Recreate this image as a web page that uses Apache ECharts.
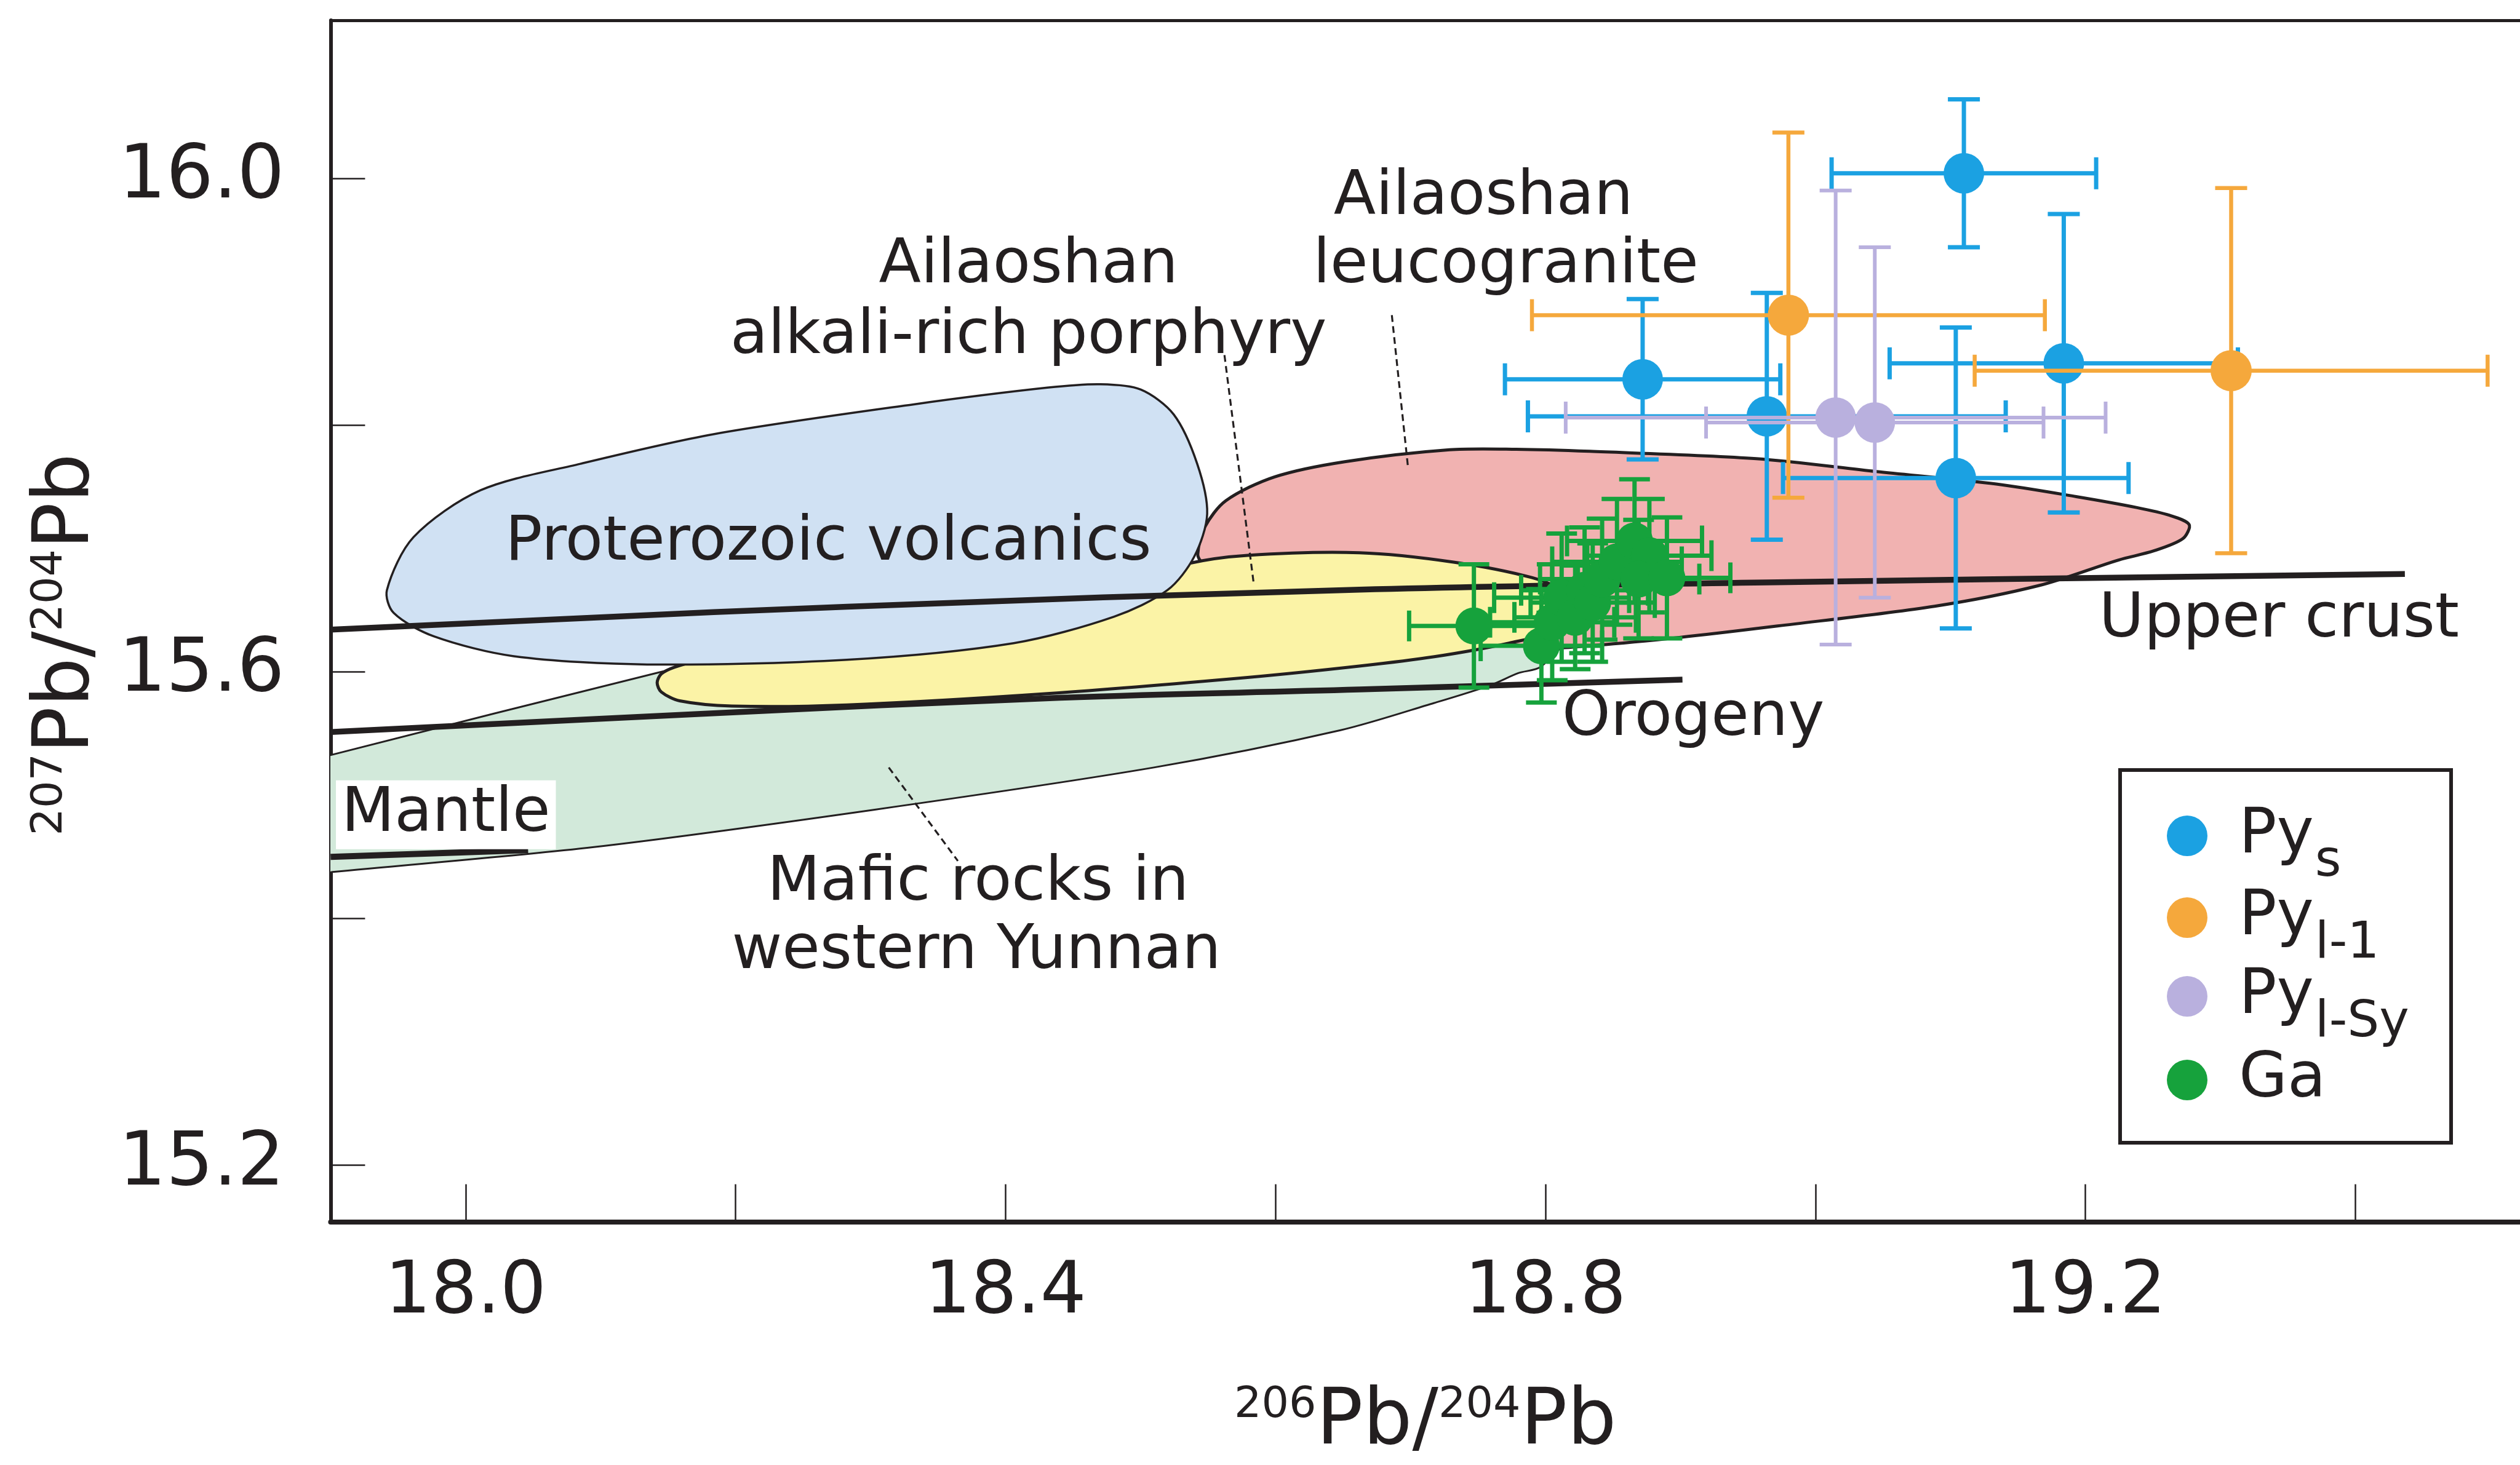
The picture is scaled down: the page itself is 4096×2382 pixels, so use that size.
<!DOCTYPE html>
<html>
<head>
<meta charset="utf-8">
<script src="https://cdn.jsdelivr.net/npm/echarts@6/dist/echarts.min.js"></script>
<style>
html,body{margin:0;padding:0;background:#fff;}
#chart{width:4096px;height:2382px;}
</style>
</head>
<body>
<div id="chart"></div>
<script>
// ---------- axes ----------
const xMin = 17.9, xMax = 19.522;
const yMin = 15.154, yMax = 16.128;
const xTickValues = [18.0, 18.2, 18.4, 18.6, 18.8, 19.0, 19.2, 19.4];
const xLabelValues = [18.0, 18.4, 18.8, 19.2];
const yTickValues = [15.2, 15.4, 15.6, 15.8, 16.0];
const yLabelValues = [15.2, 15.6, 16.0];

// ---------- data points (x, y, 2-sigma errors) ----------
const pysX = [19.110, 18.872, 18.964, 19.184, 19.104];
const pysY = [16.004, 15.837, 15.807, 15.850, 15.757];
const pysXErr = [0.098, 0.102, 0.177, 0.129, 0.128];
const pysYErr = [0.060, 0.065, 0.100, 0.121, 0.122];

const pyl1X = [18.980, 19.308];
const pyl1Y = [15.889, 15.844];
const pyl1XErr = [0.190, 0.190];
const pyl1YErr = [0.148, 0.148];

const pylSyX = [19.015, 19.044];
const pylSyY = [15.806, 15.802];
const pylSyXErr = [0.200, 0.125];
const pylSyYErr = [0.184, 0.142];

const gaX = [18.747, 18.797, 18.805, 18.812, 18.822, 18.829, 18.835, 18.842, 18.853, 18.866, 18.877, 18.869, 18.890];
const gaY = [15.637, 15.621, 15.640, 15.660, 15.644, 15.666, 15.656, 15.675, 15.689, 15.706, 15.694, 15.675, 15.676];
const gaXErr = [0.048, 0.045, 0.046, 0.050, 0.045, 0.047, 0.046, 0.046, 0.048, 0.050, 0.046, 0.045, 0.047];
const gaYErr = [0.050, 0.046, 0.047, 0.052, 0.042, 0.051, 0.048, 0.049, 0.051, 0.050, 0.046, 0.048, 0.049];

// ---------- source fields (outline vertices) ----------
const maficField = [[17.8951,15.5307],[17.9002,15.5324],[18.1419,15.5990],[18.2361,15.6213],[18.4297,15.6382],[18.6234,15.6424],[18.7784,15.6445],[18.8365,15.6487],[18.8288,15.6403],[18.7966,15.6040],[18.7799,15.5988],[18.7590,15.5889],[18.7176,15.5746],[18.6482,15.5525],[18.5099,15.5223],[18.3023,15.4880],[18.0951,15.4578],[17.9013,15.4376],[17.8951,15.4367]];
const leucograniteField = [[18.5424,15.6951],[18.5475,15.7170],[18.5633,15.7386],[18.5994,15.7579],[18.6513,15.7702],[18.7291,15.7799],[18.7784,15.7803],[18.8330,15.7786],[18.9562,15.7727],[19.0452,15.7622],[19.1340,15.7521],[19.1932,15.7419],[19.2378,15.7331],[19.2625,15.7267],[19.2769,15.7192],[19.2722,15.7078],[19.2510,15.6980],[19.2246,15.6905],[19.1657,15.6698],[19.0883,15.6530],[18.9720,15.6370],[18.8992,15.6277],[18.8365,15.6213],[18.7977,15.6192],[18.7396,15.6298],[18.6621,15.6551],[18.5846,15.6804],[18.5459,15.6888]];
const porphyryField = [[18.1419,15.5910],[18.1450,15.5982],[18.1547,15.6036],[18.1702,15.6079],[18.2748,15.6235],[18.4297,15.6530],[18.5072,15.6762],[18.5347,15.6875],[18.5793,15.6943],[18.6621,15.6964],[18.7319,15.6888],[18.7900,15.6762],[18.8171,15.6635],[18.8268,15.6509],[18.8171,15.6361],[18.7730,15.6231],[18.7176,15.6121],[18.6621,15.6045],[18.5793,15.5953],[18.4309,15.5822],[18.2825,15.5730],[18.1973,15.5721],[18.1586,15.5763],[18.1450,15.5835]];
const proterozoicField = [[17.9417,15.6661],[17.9614,15.7090],[18.0110,15.7470],[18.0850,15.7685],[18.1837,15.7925],[18.3321,15.8167],[18.4309,15.8302],[18.4704,15.8330],[18.5002,15.8287],[18.5246,15.8085],[18.5420,15.7685],[18.5494,15.7280],[18.5397,15.6930],[18.5200,15.6661],[18.4805,15.6446],[18.4061,15.6231],[18.2825,15.6096],[18.1345,15.6058],[18.0357,15.6125],[17.9765,15.6286],[17.9467,15.6476]];

// ---------- evolution curves ----------
const upperCrust = [[17.9,15.6340],[18.0850,15.6433],[18.2825,15.6526],[18.6621,15.6665],[18.9720,15.6724],[19.4367,15.6792]];
const orogeny = [[17.9,15.5510],[18.1741,15.5657],[18.4406,15.5788],[18.6621,15.5855],[18.9015,15.5935]];
const mantle = [[17.9,15.4498],[18.0463,15.4553]];

// ---------- leader lines ----------
const porphyryLeader = [[18.5622,15.8566],[18.5839,15.6711]];
const leucoLeader = [[18.6862,15.8890],[18.6982,15.7655]];
const maficLeader = [[18.3135,15.5223],[18.3647,15.4465]];

// ---------- annotations ----------
const annoText = ['Ailaoshan','leucogranite','Ailaoshan','alkali-rich porphyry','Proterozoic volcanics','Upper crust','Orogeny','Mantle','Mafic rocks in','western Yunnan'];
const annoX = [18.7540, 18.7706, 18.4170, 18.4170, 18.2688, 19.3435, 18.9095, 17.9854, 18.3796, 18.3784];
const annoY = [15.9840, 15.9284, 15.9284, 15.8715, 15.7035, 15.6413, 15.5617, 15.4840, 15.4282, 15.3725];

// ---------- legend ----------
const seriesNames = ['Pys', 'Pyl-1', 'Pyl-Sy', 'Ga'];
const legendMain = ['Py', 'Py', 'Py', 'Ga'];
const legendSub = ['s', 'l-1', 'l-Sy', ' '];

// ---------- styles / layout ----------
const INK = '#231f20';
const FONT = '"DejaVu Sans", "Liberation Sans", Arial, sans-serif';
const colors = { pys: '#1ba1e2', pyl1: '#f5a83c', pylSy: '#b9b0de', ga: '#16a23c' };
const legendRowCenter = [1358, 1491, 1619, 1755];
const LEGEND_HALF_H = 84;

function fieldSeries(name, pts, fill, lw, z) {
  return {
    type: 'custom', name: name, coordinateSystem: 'cartesian2d', clip: true, silent: true, z: z,
    data: [[pts[0][0], pts[0][1]]],
    renderItem: function (params, api) {
      return {
        type: 'polygon',
        shape: { points: pts.map(function (p) { return api.coord(p); }), smooth: 0.3 },
        style: { fill: fill, stroke: INK, lineWidth: lw }
      };
    }
  };
}

function curveSeries(pts, width, z, dashed) {
  return {
    type: 'line', data: pts, symbol: 'none', smooth: dashed ? false : 0.4, clip: true, silent: true, z: z,
    lineStyle: { color: INK, width: width, type: dashed ? [11, 7] : 'solid', cap: 'butt' }
  };
}

function errSeries(xs, ys, exs, eys, color, lw, cap, z) {
  return {
    type: 'custom', coordinateSystem: 'cartesian2d', silent: true, z: z, clip: true,
    data: xs.map(function (x, i) { return [x, ys[i], exs[i], eys[i]]; }),
    renderItem: function (params, api) {
      const x = api.value(0), y = api.value(1), ex = api.value(2), ey = api.value(3);
      const l = api.coord([x - ex, y]), r = api.coord([x + ex, y]);
      const t = api.coord([x, y + ey]), b = api.coord([x, y - ey]);
      const h = cap / 2;
      const st = { stroke: color, lineWidth: lw, fill: null };
      return {
        type: 'group',
        children: [
          { type: 'line', shape: { x1: l[0], y1: l[1], x2: r[0], y2: r[1] }, style: st },
          { type: 'line', shape: { x1: t[0], y1: t[1], x2: b[0], y2: b[1] }, style: st },
          { type: 'line', shape: { x1: l[0], y1: l[1] - h, x2: l[0], y2: l[1] + h }, style: st },
          { type: 'line', shape: { x1: r[0], y1: r[1] - h, x2: r[0], y2: r[1] + h }, style: st },
          { type: 'line', shape: { x1: t[0] - h, y1: t[1], x2: t[0] + h, y2: t[1] }, style: st },
          { type: 'line', shape: { x1: b[0] - h, y1: b[1], x2: b[0] + h, y2: b[1] }, style: st }
        ]
      };
    }
  };
}

function pointSeries(name, xs, ys, color, size, z) {
  return {
    type: 'scatter', name: name, symbol: 'circle', symbolSize: size, z: z, silent: true,
    itemStyle: { color: color, opacity: 1 },
    data: xs.map(function (x, i) { return [x, ys[i]]; })
  };
}

function legendFor(i) {
  return {
    show: true, orient: 'vertical', left: 3522, top: legendRowCenter[i] - LEGEND_HALF_H,
    padding: 0, itemWidth: 158, itemHeight: 66, itemGap: 0,
    icon: 'circle', selectedMode: false,
    data: [seriesNames[i]],
    formatter: function () {
      return '{m|' + legendMain[i] + '}{s|' + legendSub[i] + '}';
    },
    textStyle: {
      color: INK, fontFamily: FONT, fontSize: 102,
      rich: {
        m: { fontSize: 102, lineHeight: 100, fontFamily: FONT, color: INK },
        s: { fontSize: 82, lineHeight: 1, padding: [88, 0, 0, 2], fontFamily: FONT, color: INK }
      }
    }
  };
}

const chart = echarts.init(document.getElementById('chart'), null, { renderer: 'canvas' });

const option = {
  animation: false,
  backgroundColor: '#ffffff',
  grid: { left: 537.4, right: 0, top: 33.1, bottom: 387.7, containLabel: false },
  graphic: [{
    type: 'rect', left: 3443, top: 1249, z: 100, silent: true,
    shape: { width: 538, height: 606 },
    style: { fill: 'none', stroke: INK, lineWidth: 6 }
  }],
  xAxis: [
    {
      type: 'value', min: xMin, max: xMax, position: 'bottom',
      axisLine: { show: true, onZero: false, lineStyle: { color: INK, width: 8 } },
      axisTick: { show: true, inside: true, length: 61, customValues: xTickValues, lineStyle: { color: INK, width: 2.5 } },
      axisLabel: { show: true, customValues: xLabelValues, margin: 58, fontSize: 118, fontFamily: FONT, color: INK,
        formatter: function (v) { return v.toFixed(1); } },
      splitLine: { show: false },
      name: '{sup|206}{b|Pb/}{sup|204}{b|Pb}',
      nameLocation: 'middle', nameGap: 264,
      nameTextStyle: {
        color: INK, fontFamily: FONT,
        rich: {
          b: { fontSize: 126, lineHeight: 127, fontFamily: FONT, color: INK },
          sup: { fontSize: 70, lineHeight: 26, verticalAlign: 'top', fontFamily: FONT, color: INK }
        }
      }
    },
    {
      type: 'value', min: xMin, max: xMax, position: 'top',
      axisLine: { show: true, onZero: false, lineStyle: { color: INK, width: 5 } },
      axisTick: { show: false }, axisLabel: { show: false }, splitLine: { show: false }
    }
  ],
  yAxis: {
    type: 'value', min: yMin, max: yMax, position: 'left',
    axisLine: { show: true, onZero: false, lineStyle: { color: INK, width: 6 } },
    axisTick: { show: true, inside: true, length: 56, customValues: yTickValues, lineStyle: { color: INK, width: 2.5 } },
    axisLabel: { show: true, customValues: yLabelValues, margin: 75, fontSize: 121, fontFamily: FONT, color: INK,
      formatter: function (v) { return v.toFixed(1); } },
    splitLine: { show: false },
    name: '{sup|207}{b|Pb/}{sup|204}{b|Pb}',
    nameLocation: 'middle', nameGap: 364, nameRotate: 90,
    nameTextStyle: {
      color: INK, fontFamily: FONT, padding: [0, 76, 0, 0],
      rich: {
        b: { fontSize: 126, lineHeight: 127, fontFamily: FONT, color: INK },
        sup: { fontSize: 70, lineHeight: 26, verticalAlign: 'top', fontFamily: FONT, color: INK }
      }
    }
  },
  legend: [legendFor(0), legendFor(1), legendFor(2), legendFor(3)],
  series: [
    fieldSeries('mafic', maficField, '#d2e9da', 3, 1),
    fieldSeries('leucogranite', leucograniteField, '#f1b2b1', 5, 1),
    fieldSeries('porphyry', porphyryField, '#fbf3a6', 5, 1),
    fieldSeries('proterozoic', proterozoicField, '#d0e1f3', 3.5, 1),
    curveSeries(upperCrust, 9.5, 6, false),
    curveSeries(orogeny, 9.5, 6, false),
    curveSeries(mantle, 10, 6, false),
    curveSeries(porphyryLeader, 3.2, 6, true),
    curveSeries(leucoLeader, 3.2, 6, true),
    curveSeries(maficLeader, 3.2, 6, true),
    {
      type: 'custom', coordinateSystem: 'cartesian2d', silent: true, z: 8, clip: false,
      data: annoText.map(function (t, i) { return [annoX[i], annoY[i], i]; }),
      renderItem: function (params, api) {
        const i = api.value(2);
        const p = api.coord([api.value(0), api.value(1)]);
        const boxed = annoText[i] === 'Mantle';
        return {
          type: 'text', x: p[0], y: p[1],
          style: {
            text: annoText[i], fill: INK, fontSize: 100, fontFamily: FONT,
            align: 'center', verticalAlign: 'middle',
            backgroundColor: boxed ? '#ffffff' : null, padding: boxed ? [6, 9] : 0
          }
        };
      }
    },
    errSeries(pysX, pysY, pysXErr, pysYErr, colors.pys, 7, 52, 10),
    pointSeries('Pys', pysX, pysY, colors.pys, 66, 11),
    errSeries(pyl1X, pyl1Y, pyl1XErr, pyl1YErr, colors.pyl1, 6.5, 52, 12),
    pointSeries('Pyl-1', pyl1X, pyl1Y, colors.pyl1, 67, 13),
    errSeries(pylSyX, pylSyY, pylSyXErr, pylSyYErr, colors.pylSy, 6, 52, 14),
    pointSeries('Pyl-Sy', pylSyX, pylSyY, colors.pylSy, 66, 15),
    errSeries(gaX, gaY, gaXErr, gaYErr, colors.ga, 7, 50, 16),
    pointSeries('Ga', gaX, gaY, colors.ga, 60, 17)
  ]
};
chart.setOption(option);
</script>
</body>
</html>
